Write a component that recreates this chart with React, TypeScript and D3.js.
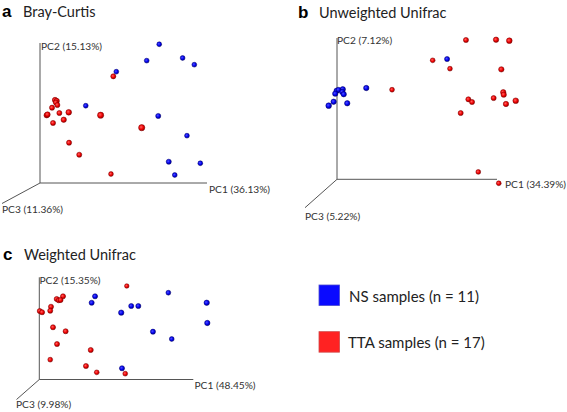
import React from "react";
import * as d3 from "d3";

// ---- data (PC1, PC2 in normalized axis units 0..100, depth 0..1) ----
type Pt = [number, number, number];

const braycurtisNS: Pt[] = [
  [71.4, 99.1, 0.3], [63.9, 87.4, 0.3], [85.4, 89.3, 0.3], [92.4, 84.5, 0.3],
  [45.7, 79.5, 0.3], [27.4, 55.2, 0.3], [70.8, 47.9, 0.4], [88.0, 33.8, 0.3],
  [77.1, 15.2, 0.4], [96.0, 14.1, 0.3], [80.7, 5.7, 0.3],
];
const braycurtisTTA: Pt[] = [
  [43.9, 76.2, 0.4], [9.0, 59.3, 0.5], [10.0, 58.6, 0.5], [9.5, 57.5, 0.4],
  [10.4, 55.7, 0.4], [7.2, 53.8, 0.4], [17.2, 50.5, 0.6], [11.6, 50.0, 0.4],
  [4.0, 48.4, 0.5], [4.5, 48.9, 0.5], [36.3, 48.4, 0.8], [14.2, 45.2, 0.5],
  [7.8, 42.9, 0.4], [60.9, 39.5, 0.8], [17.4, 28.8, 0.4], [23.5, 20.2, 0.4],
  [42.5, 6.4, 0.3],
];

const unweightedNS: Pt[] = [
  [68.8, 85.1, 0.4], [18.3, 64.6, 0.5], [3.6, 63.7, 0.5], [-0.2, 62.7, 0.5],
  [0.9, 63.3, 0.4], [3.3, 61.8, 0.5], [-1.1, 60.6, 0.5], [4.2, 60.2, 0.5],
  [-2.1, 54.9, 0.5], [6.4, 53.8, 0.5], [-5.2, 52.1, 0.6],
];
const unweightedTTA: Pt[] = [
  [80.6, 98.6, 0.4], [99.4, 98.8, 0.5], [107.7, 98.1, 0.6], [59.8, 84.2, 0.3],
  [70.6, 78.3, 0.3], [102.7, 77.8, 0.5], [34.4, 63.4, 0.3], [103.9, 61.6, 0.5],
  [104.2, 59.9, 0.5], [97.9, 57.5, 0.4], [82.1, 56.6, 0.4], [84.4, 54.7, 0.4],
  [111.7, 55.6, 0.6], [105.6, 53.3, 0.5], [77.3, 46.9, 0.4], [88.3, 5.2, 0.3],
  [101.1, -2.8, 0.3],
];

const weightedNS: Pt[] = [
  [83.8, 84.9, 0.3], [36.2, 81.4, 0.4], [34.0, 75.1, 0.4], [108.7, 75.1, 0.5],
  [59.7, 71.9, 0.4], [64.3, 71.9, 0.4], [53.2, 65.4, 0.5], [109.1, 55.3, 0.5],
  [73.8, 46.8, 0.4], [86.0, 39.6, 0.3], [53.7, 11.0, 0.4],
];
const weightedTTA: Pt[] = [
  [56.8, 91.5, 0.2], [15.4, 81.4, 0.4], [11.3, 78.8, 0.4], [12.6, 77.5, 0.4],
  [13.8, 77.8, 0.4], [7.6, 71.2, 0.4], [7.1, 67.3, 0.4], [0.3, 67.0, 0.4],
  [1.8, 65.8, 0.4], [8.9, 51.1, 0.4], [17.1, 47.2, 0.4], [11.5, 34.7, 0.4],
  [33.4, 28.9, 0.4], [7.1, 19.4, 0.3], [30.3, 13.2, 0.4], [37.3, 7.0, 0.3],
  [55.8, 5.7, 0.3],
];

const panelLetters = ["a", "b", "c"];
const panelTitles = ["Bray-Curtis", "Unweighted Unifrac", "Weighted Unifrac"];
const pc1Labels = ["PC1 (36.13%)", "PC1 (34.39%)", "PC1 (48.45%)"];
const pc2Labels = ["PC2 (15.13%)", "PC2 (7.12%)", "PC2 (15.35%)"];
const pc3Labels = ["PC3 (11.36%)", "PC3 (5.22%)", "PC3 (9.98%)"];
const legendLabels = ["NS samples (n = 11)", "TTA samples (n = 17)"];

// ---- layout ----
const W = 567;
const H = 412;
const FONT = "Lato, 'Open Sans', sans-serif";

const panels = [
  {
    ns: braycurtisNS, tta: braycurtisTTA,
    x0: 40, x1: 207, yb: 183, yt: 43, diag: [2, 203.5],
    title: [2, 11], pc2: [41, 46], pc1: [209, 189], pc3: [2, 209],
  },
  {
    ns: unweightedNS, tta: unweightedTTA,
    x0: 337, x1: 497, yb: 179.3, yt: 38, diag: [305, 207.7],
    title: [298, 12], pc2: [337, 40], pc1: [505, 184], pc3: [305, 216],
  },
  {
    ns: weightedNS, tta: weightedTTA,
    x0: 39.3, x1: 193.3, yb: 379.5, yt: 277.3, diag: [16.5, 399.5],
    title: [3, 254], pc2: [39.5, 280], pc1: [194.5, 385], pc3: [16, 403.5],
  },
];

const rScale = d3.scaleLinear().domain([0, 1]).range([2.0, 3.4]);

function Panel({ p, i }: { p: (typeof panels)[number]; i: number }) {
  const x = d3.scaleLinear().domain([0, 100]).range([p.x0, p.x1]);
  const y = d3.scaleLinear().domain([0, 100]).range([p.yb, p.yt]);
  const axisPath = d3.path();
  axisPath.moveTo(x(0), y(100));
  axisPath.lineTo(x(0), y(0));
  axisPath.lineTo(x(100), y(0));
  axisPath.moveTo(x(0), y(0));
  axisPath.lineTo(p.diag[0], p.diag[1]);
  const axisFont = 10.2;
  return (
    <g>
      <text x={p.title[0]} y={p.title[1]} dominantBaseline="central"
        fontFamily="Arial, 'Liberation Sans', sans-serif" fontWeight="bold" fontSize={17} fill="#000">
        {panelLetters[i]}
      </text>
      <text x={p.title[0] + 21} y={p.title[1] + 0.5} dominantBaseline="central"
        fontFamily={FONT} fontSize={14.5} fill="#222">
        {panelTitles[i]}
      </text>
      <path d={axisPath.toString()} fill="none" stroke="#555" strokeWidth={1} />
      <text x={p.pc2[0]} y={p.pc2[1]} dominantBaseline="central" fontFamily={FONT} fontSize={axisFont} fill="#333">
        {pc2Labels[i]}
      </text>
      <text x={p.pc1[0]} y={p.pc1[1]} dominantBaseline="central" fontFamily={FONT} fontSize={axisFont} fill="#333">
        {pc1Labels[i]}
      </text>
      <text x={p.pc3[0]} y={p.pc3[1]} dominantBaseline="central" fontFamily={FONT} fontSize={axisFont} fill="#333">
        {pc3Labels[i]}
      </text>
      {p.tta.map((d, k) => (
        <circle key={"t" + k} cx={x(d[0])} cy={y(d[1])} r={rScale(d[2])}
          fill="url(#gradRed)" stroke="#7a0000" strokeWidth={0.5} />
      ))}
      {p.ns.map((d, k) => (
        <circle key={"n" + k} cx={x(d[0])} cy={y(d[1])} r={rScale(d[2])}
          fill="url(#gradBlue)" stroke="#00006a" strokeWidth={0.5} />
      ))}
    </g>
  );
}

export default function App() {
  const legendColors = ["#0a0aff", "#ff2222"];
  const legendY = d3.scaleBand().domain(legendLabels).range([285, 355]).paddingInner(0.5).paddingOuter(0);
  return (
    <svg width={W} height={H} style={{ position: "absolute", left: 0, top: 0, background: "#fff" }}>
      <defs>
        <radialGradient id="gradRed" cx="40%" cy="40%" r="60%">
          <stop offset="0%" stopColor="#ff6060" />
          <stop offset="60%" stopColor="#f00000" />
          <stop offset="100%" stopColor="#a00000" />
        </radialGradient>
        <radialGradient id="gradBlue" cx="40%" cy="40%" r="60%">
          <stop offset="0%" stopColor="#5050ff" />
          <stop offset="60%" stopColor="#0000f0" />
          <stop offset="100%" stopColor="#00009a" />
        </radialGradient>
      </defs>
      <rect x={0} y={0} width={W} height={H} fill="#fff" />
      {panels.map((p, i) => (
        <Panel key={i} p={p} i={i} />
      ))}
      {legendLabels.map((lab, k) => {
        const y0 = (legendY(lab) as number);
        return (
          <g key={lab}>
            <rect x={319} y={y0} width={20.5} height={20.5} fill={legendColors[k]}
              stroke={k === 0 ? "#4a4ad0" : "#d04a4a"} strokeWidth={0.8} />
            <text x={k === 0 ? 349 : 348} y={y0 + 10.5} dominantBaseline="central"
              fontFamily={FONT} fontSize={15} fill="#222">
              {lab}
            </text>
          </g>
        );
      })}
    </svg>
  );
}
